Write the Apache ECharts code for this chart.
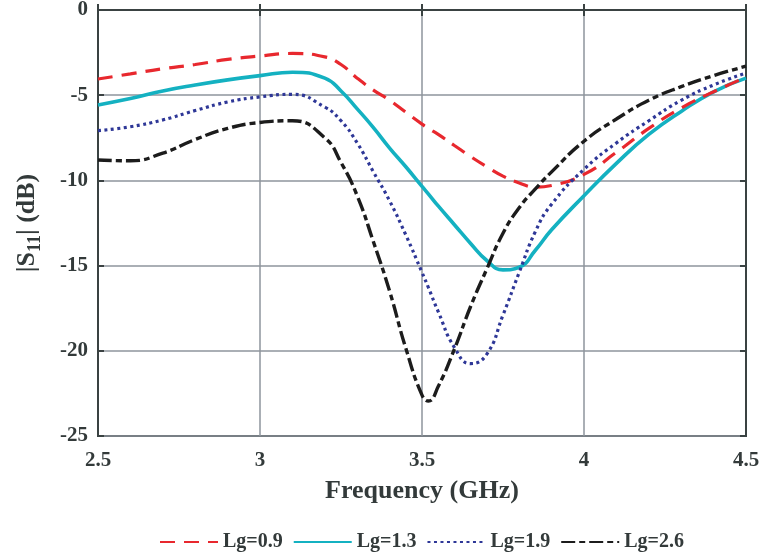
<!DOCTYPE html>
<html>
<head>
<meta charset="utf-8">
<script src="https://cdn.jsdelivr.net/npm/echarts@6/dist/echarts.min.js"></script>
<style>
html,body{margin:0;padding:0;background:#fff;}
#chart{width:761px;height:552px;}
</style>
</head>
<body>
<div id="chart"></div>
<script>
// Frequency samples (GHz)
const freq = [2.5, 2.6, 2.7, 2.8, 2.9, 3.0, 3.1, 3.2, 3.25, 3.3, 3.35, 3.4, 3.45, 3.5, 3.52, 3.55, 3.6, 3.65, 3.7, 3.75, 3.8, 3.85, 3.9, 4.0, 4.1, 4.2, 4.3, 4.4, 4.5];
// |S11| (dB) for each Lg
const lg09 = [-4.05, -3.75, -3.45, -3.2, -2.9, -2.7, -2.55, -2.75, -3.2, -4.0, -4.7, -5.3, -6.0, -6.7, -6.95, -7.3, -7.95, -8.6, -9.2, -9.75, -10.15, -10.4, -10.3, -9.65, -8.35, -6.95, -5.75, -4.8, -3.95];
const lg13 = [-5.57, -5.2, -4.75, -4.4, -4.1, -3.85, -3.65, -4.0, -4.75, -5.8, -6.9, -8.1, -9.2, -10.35, -10.8, -11.5, -12.6, -13.7, -14.7, -15.25, -15.1, -14.1, -12.9, -10.9, -9.0, -7.3, -5.95, -4.8, -4.0];
const lg19 = [-7.08, -6.85, -6.45, -5.9, -5.4, -5.1, -4.95, -5.7, -6.5, -7.8, -9.5, -11.2, -13.2, -15.4, -16.3, -17.7, -19.8, -20.75, -20.2, -17.9, -15.4, -13.0, -11.4, -9.35, -7.8, -6.5, -5.3, -4.4, -3.7];
const lg26 = [-8.8, -8.85, -8.4, -7.6, -6.95, -6.6, -6.5, -7.5, -8.95, -10.9, -13.6, -16.5, -19.85, -22.6, -22.95, -22.1, -19.9, -17.4, -15.2, -13.1, -11.6, -10.5, -9.5, -7.7, -6.4, -5.3, -4.5, -3.85, -3.3];
// Axis ticks
const xTicks = [2.5, 3, 3.5, 4, 4.5];
const yTicks = [-25, -20, -15, -10, -5, 0];
const seriesNames = ['Lg=0.9', 'Lg=1.3', 'Lg=1.9', 'Lg=2.6'];

const FONT = '"Liberation Serif", "DejaVu Serif", serif';
const TXT = '#333a3a';
const GRIDC = '#8e959c';
const AX = '#3a4242';

function pairs(vals) { return freq.map((f, i) => [f, vals[i]]); }

const styles = [
  { color: '#e8282e', width: 3.2, type: [15, 9] },
  { color: '#14b1c1', width: 3.6, type: 'solid' },
  { color: '#2e3797', width: 3.2, type: [3, 3.5] },
  { color: '#1c1c1c', width: 3.4, type: [14, 4, 6, 4] }
];
const data = [lg09, lg13, lg19, lg26];

const chart = echarts.init(document.getElementById('chart'), null, { renderer: 'canvas' });
chart.setOption({
  animation: false,
  backgroundColor: '#fff',
  grid: { left: 98, right: 15, top: 10, bottom: 116, outerBoundsMode: 'none', containLabel: false,
          show: true, borderColor: AX, borderWidth: 2, backgroundColor: 'transparent' },
  legend: {
    left: 154, top: 527,
    itemWidth: 58, itemHeight: 16, itemGap: 10,
    itemStyle: { opacity: 0, borderWidth: 0 },
    textStyle: { fontFamily: FONT, fontWeight: 'bold', fontSize: 20, color: TXT },
    data: seriesNames
  },
  xAxis: [{
    type: 'value', min: xTicks[0], max: xTicks[xTicks.length - 1], interval: 0.5,
    name: 'Frequency (GHz)', nameLocation: 'middle', nameGap: 42,
    nameTextStyle: { fontFamily: FONT, fontWeight: 'bold', fontSize: 26, color: TXT },
    axisLine: { show: true, lineStyle: { color: AX, width: 2 } },
    axisTick: { show: true, inside: true, length: 6, lineStyle: { color: AX, width: 2 } },
    axisLabel: { margin: 14, fontFamily: FONT, fontWeight: 'bold', fontSize: 21, color: TXT },
    splitLine: { show: true, lineStyle: { color: GRIDC, width: 1.5 } }
  }, {
    type: 'value', position: 'top', min: xTicks[0], max: xTicks[xTicks.length - 1], interval: 0.5,
    axisLine: { show: true, lineStyle: { color: AX, width: 2 } },
    axisTick: { show: true, inside: true, length: 6, lineStyle: { color: AX, width: 2 } },
    axisLabel: { show: false }, splitLine: { show: false }
  }],
  yAxis: [{
    type: 'value', min: yTicks[0], max: yTicks[yTicks.length - 1], interval: 5,
    name: '|S{sub|11}| (dB)', nameLocation: 'middle', nameGap: 54,
    nameTextStyle: {
      fontFamily: FONT, fontWeight: 'bold', fontSize: 26, color: TXT, lineHeight: 34,
      rich: { sub: { fontFamily: FONT, fontWeight: 'bold', fontSize: 18, color: TXT, lineHeight: 34, verticalAlign: 'bottom' } }
    },
    axisLine: { show: true, lineStyle: { color: AX, width: 2 } },
    axisTick: { show: true, inside: true, length: 6, lineStyle: { color: AX, width: 2 } },
    axisLabel: { margin: 10, fontFamily: FONT, fontWeight: 'bold', fontSize: 21, color: TXT },
    splitLine: { show: true, lineStyle: { color: GRIDC, width: 1.5 } }
  }, {
    type: 'value', position: 'right', min: yTicks[0], max: yTicks[yTicks.length - 1], interval: 5,
    axisLine: { show: true, lineStyle: { color: AX, width: 2 } },
    axisTick: { show: true, inside: true, length: 6, lineStyle: { color: AX, width: 2 } },
    axisLabel: { show: false }, splitLine: { show: false }
  }],
  series: seriesNames.map((n, i) => ({
    name: n, type: 'line', smooth: true, symbol: 'none', showSymbol: false,
    data: pairs(data[i]),
    itemStyle: { color: styles[i].color },
    lineStyle: { color: styles[i].color, width: styles[i].width, type: styles[i].type, cap: 'butt' },
    z: 3 + (i === 1 ? 0 : 1)
  }))
});
</script>
</body>
</html>
